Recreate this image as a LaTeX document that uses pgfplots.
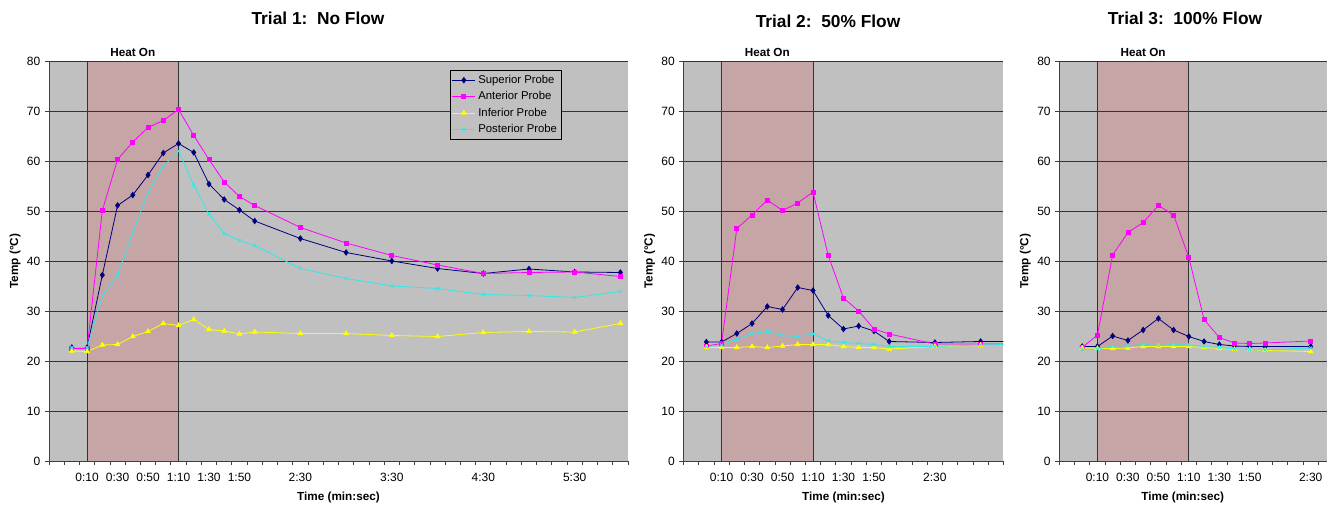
\documentclass[border=0pt]{standalone}
\usepackage{fontspec}
\setmainfont{Liberation Sans}
\usepackage{pgfplots}
\pgfplotsset{compat=1.18}

\definecolor{plotgrey}{HTML}{C0C0C0}
\definecolor{heatband}{RGB}{197,165,165}
\definecolor{supcol}{HTML}{000080}
\definecolor{antcol}{HTML}{FF00FF}
\definecolor{infcol}{HTML}{FFFF00}
\definecolor{poscol}{HTML}{30E8E8}

\pgfplotsset{
  trial/.style={
    scale only axis, height=300pt,
    xmin=-15, ymin=0, ymax=80, ytick={0,10,...,80},
    axis x line*=bottom, axis y line*=left,
    axis line style={-, black!75, line width=0.6pt},
    axis background/.style={fill=plotgrey},
    ymajorgrids, grid style={black!80, line width=0.7pt},
    tick align=outside, major tick length=3pt,
    tick style={black!75, line width=0.6pt},
    xticklabels={},
    extra x tick style={major tick length=0pt},
    tick label style={font=\fontsize{9}{10}\selectfont},
    xticklabel style={yshift=-5.5pt},
    /pgf/number format/assume math mode=true,
    xlabel={Time (min:sec)}, ylabel={Temp (°C)},
    label style={font=\bfseries\fontsize{8.8}{10}\selectfont},
    xlabel style={at={(axis description cs:0.5,0)}, anchor=center, yshift=-27pt},
    ylabel style={at={(axis description cs:0,0.5)}, anchor=center, yshift=25.5pt},
    clip=false,
  },
  sup/.style={color=supcol, line width=0.6pt, mark=diamond*, mark size=2pt},
  ant/.style={color=antcol, line width=0.6pt, mark=square*, mark size=1.5pt},
  inf/.style={color=infcol, line width=0.6pt, mark=triangle*, mark size=2pt},
  pos/.style={color=poscol, line width=0.6pt, mark=x, mark size=1.6pt},
}

% heat-on band from 0:10 to 1:10, with the grid lines drawn again over it
\newcommand{\heatband}{%
  \fill[heatband] (axis cs:10,0) rectangle (axis cs:70,80);
  \pgfplotsinvokeforeach{10,20,...,80}{
    \draw[black!80, line width=0.7pt] (axis cs:10,##1) -- (axis cs:70,##1);
  }
  \draw[black!80, line width=0.7pt] (axis cs:10,0) -- (axis cs:10,80);
  \draw[black!80, line width=0.7pt] (axis cs:70,0) -- (axis cs:70,80);
  \node[anchor=base, font=\bfseries\fontsize{8.8}{10}\selectfont, yshift=3.4pt] at (axis cs:40,80) {Heat On};
}

\begin{document}
\begin{tikzpicture}
\path[use as bounding box] (0,0) rectangle (999.75pt,379.5pt);

\node[font=\bfseries\fontsize{13}{15}\selectfont] at (238.5pt,366pt) {Trial 1:\ \ No Flow};
\node[font=\bfseries\fontsize{13}{15}\selectfont] at (621pt,363.75pt) {Trial 2:\ \ 50\% Flow};
\node[font=\bfseries\fontsize{13}{15}\selectfont] at (888.75pt,366pt) {Trial 3:\ \ 100\% Flow};

% Trial 1: no flow
\begin{axis}[trial, at={(36.75pt,33.75pt)}, anchor=south west,
  width=434.25pt, xmax=365,
  xtick={-15,-5,...,365},
  extra x ticks={10,30,50,70,90,110,150,210,270,330},
  extra x tick labels={0:10,0:30,0:50,1:10,1:30,1:50,2:30,3:30,4:30,5:30},
  legend style={at={(0.886,0.977)}, anchor=north east, fill=plotgrey, draw=black,
    font=\fontsize{8.5}{10}\selectfont, inner sep=1.5pt, row sep=0.6pt},
  legend cell align=left]
\heatband
\addplot[sup] coordinates {(0,22.7)(10,22.7)(20,37.2)(30,51.1)(40,53.2)(50,57.2)(60,61.6)(70,63.5)(80,61.7)(90,55.4)(100,52.3)(110,50.2)(120,48.0)(150,44.5)(180,41.7)(210,40.0)(240,38.5)(270,37.5)(300,38.4)(330,37.8)(360,37.7)};
\addlegendentry{Superior Probe}
\addplot[ant] coordinates {(0,22.5)(10,22.5)(20,50.1)(30,60.3)(40,63.8)(50,66.7)(60,68.1)(70,70.3)(80,65.1)(90,60.3)(100,55.8)(110,52.9)(120,51.1)(150,46.7)(180,43.6)(210,41.1)(240,39.2)(270,37.5)(300,37.7)(330,37.8)(360,36.9)};
\addlegendentry{Anterior Probe}
\addplot[inf] coordinates {(0,22.0)(10,21.9)(20,23.2)(30,23.3)(40,24.9)(50,25.9)(60,27.5)(70,27.1)(80,28.3)(90,26.3)(100,26.0)(110,25.4)(120,25.8)(150,25.5)(180,25.5)(210,25.1)(240,24.9)(270,25.7)(300,25.9)(330,25.8)(360,27.5)};
\addlegendentry{Inferior Probe}
\addplot[pos] coordinates {(0,22.7)(10,22.7)(20,33.0)(30,37.2)(40,45.7)(50,53.7)(60,58.9)(70,62.0)(80,55.2)(90,49.4)(100,45.5)(110,44.1)(120,43.1)(150,38.5)(180,36.5)(210,35.0)(240,34.5)(270,33.3)(300,33.1)(330,32.7)(360,33.9)};
\addlegendentry{Posterior Probe}
\end{axis}

% Trial 2: 50% flow (lines run on to the right edge without a mark)
\begin{axis}[trial, at={(512.6pt,33.75pt)}, anchor=south west,
  width=240pt, xmax=195,
  xtick={-15,-5,...,195},
  extra x ticks={10,30,50,70,90,110,150},
  extra x tick labels={0:10,0:30,0:50,1:10,1:30,1:50,2:30}]
\heatband
\addplot[sup, mark indices={1,...,15}] coordinates {(0,23.8)(10,23.8)(20,25.5)(30,27.5)(40,30.9)(50,30.3)(60,34.7)(70,34.1)(80,29.1)(90,26.4)(100,27.0)(110,26.0)(120,23.9)(150,23.7)(180,23.9)(195,23.9)};
\addplot[ant, mark indices={1,...,15}] coordinates {(0,23.0)(10,23.5)(20,46.5)(30,49.2)(40,52.2)(50,50.1)(60,51.6)(70,53.8)(80,41.1)(90,32.6)(100,30.0)(110,26.4)(120,25.4)(150,23.4)(180,23.4)(195,23.4)};
\addplot[inf] coordinates {(0,22.7)(10,22.7)(20,22.7)(30,22.9)(40,22.7)(50,23.0)(60,23.3)(70,23.3)(80,23.3)(90,22.9)(100,22.7)(110,22.7)(120,22.4)(150,22.9)(180,23.1)};
\addplot[pos, mark indices={1,...,15}] coordinates {(0,22.9)(10,23.2)(20,24.3)(30,25.5)(40,25.9)(50,25.1)(60,24.9)(70,25.4)(80,24.0)(90,23.7)(100,23.5)(110,23.3)(120,22.9)(150,22.9)(180,23.2)(195,23.3)};
\end{axis}

% Trial 3: 100% flow
\begin{axis}[trial, at={(794.5pt,33.75pt)}, anchor=south west,
  width=201.1pt, xmax=161,
  xtick={-15,-5,...,155},
  extra x ticks={10,30,50,70,90,110,150},
  extra x tick labels={0:10,0:30,0:50,1:10,1:30,1:50,2:30},
  xlabel style={xshift=-8pt}]
\heatband
\addplot[sup] coordinates {(0,22.9)(10,22.9)(20,25.0)(30,24.1)(40,26.2)(50,28.5)(60,26.2)(70,24.9)(80,23.9)(90,23.3)(100,23.0)(110,22.9)(120,22.9)(150,22.9)};
\addplot[ant] coordinates {(0,22.7)(10,25.2)(20,41.2)(30,45.7)(40,47.7)(50,51.1)(60,49.2)(70,40.7)(80,28.3)(90,24.7)(100,23.6)(110,23.5)(120,23.6)(150,24.0)};
\addplot[inf] coordinates {(0,22.6)(10,22.5)(20,22.5)(30,22.6)(40,22.9)(50,22.9)(60,22.9)(70,22.9)(80,22.7)(90,22.5)(100,22.3)(110,22.3)(120,22.1)(150,21.9)};
\addplot[pos] coordinates {(0,22.3)(10,22.4)(20,23.0)(30,23.0)(40,23.3)(50,23.1)(60,23.3)(70,23.2)(80,22.9)(90,22.7)(100,22.4)(110,22.3)(120,22.2)(150,22.6)};
\end{axis}
\end{tikzpicture}
\end{document}
